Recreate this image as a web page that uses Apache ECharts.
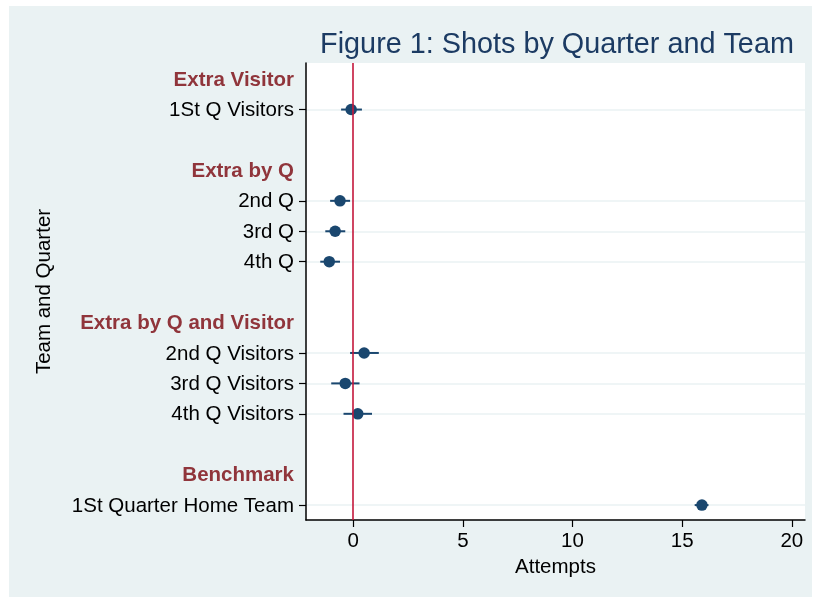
<!DOCTYPE html>
<html>
<head>
<meta charset="utf-8">
<script src="https://cdn.jsdelivr.net/npm/echarts@6/dist/echarts.min.js"></script>
<style>
html,body{margin:0;padding:0;background:#fff;}
#chart{width:814px;height:599px;}
</style>
</head>
<body>
<div id="chart"></div>
<script>
// Row labels (top to bottom); headers and blank spacer rows included
var rowLabels = ['Extra Visitor', '1St Q Visitors', '', 'Extra by Q', '2nd Q', '3rd Q', '4th Q', '',
  'Extra by Q and Visitor', '2nd Q Visitors', '3rd Q Visitors', '4th Q Visitors', '', 'Benchmark', '1St Quarter Home Team'];
var headerRows = [0, 3, 8, 13];
var itemRows = [1, 4, 5, 6, 9, 10, 11, 14];
// Estimates and confidence intervals for the item rows
var estimates = [-0.09, -0.6, -0.82, -1.09, 0.5, -0.36, 0.21, 15.9];
var lowerCI   = [-0.55, -1.05, -1.27, -1.5, -0.14, -1.0, -0.44, 15.57];
var upperCI   = [0.4, -0.14, -0.36, -0.6, 1.17, 0.29, 0.86, 16.2];
var xTicks = [0, 5, 10, 15, 20];

var allRows = rowLabels.map(function (_, i) { return i; });
var pointData = itemRows.map(function (r, i) { return [estimates[i], r]; });
var ciData = itemRows.map(function (r, i) { return [lowerCI[i], upperCI[i], r]; });

var FONT = '"Liberation Sans", Arial, Helvetica, sans-serif';
var NAVY = '#1a476f';

var chart = echarts.init(document.getElementById('chart'), null, {renderer: 'canvas'});
chart.setOption({
  animation: false,
  backgroundColor: '#ffffff',
  textStyle: {fontFamily: FONT},
  graphic: [{
    type: 'rect', z: -10, silent: true,
    shape: {x: 9, y: 6, width: 803, height: 591},
    style: {fill: '#eaf2f3'}
  }],
  title: {
    text: 'Figure 1: Shots by Quarter and Team',
    left: 552, top: 26, textAlign: 'center',
    textStyle: {fontFamily: FONT, fontSize: 28.8, fontWeight: 'normal', color: '#1c3b63'}
  },
  grid: {left: 306, top: 63, right: 9, bottom: 79, show: true, backgroundColor: '#ffffff', borderWidth: 0},
  xAxis: {
    type: 'value', min: -2.15, max: 20.6,
    name: 'Attempts', nameLocation: 'middle', nameGap: 36,
    nameTextStyle: {fontFamily: FONT, fontSize: 20.5, color: '#000'},
    axisLine: {show: true, onZero: false, lineStyle: {color: '#000', width: 1.5}},
    axisTick: {show: true, length: 7, customValues: xTicks, lineStyle: {color: '#000', width: 1.2}},
    axisLabel: {customValues: xTicks, fontFamily: FONT, fontSize: 20.5, color: '#000', margin: 11},
    splitLine: {show: false}
  },
  yAxis: {
    type: 'value', inverse: true, min: -0.53, max: 14.49,
    name: 'Team and Quarter', nameLocation: 'middle', nameGap: 251, nameRotate: 90,
    nameTextStyle: {fontFamily: FONT, fontSize: 20.5, color: '#000'},
    axisLine: {show: true, onZero: false, lineStyle: {color: '#000', width: 1.5}},
    axisTick: {show: true, length: 7, customValues: itemRows, lineStyle: {color: '#000', width: 1.2}},
    axisLabel: {
      customValues: allRows, fontFamily: FONT, fontSize: 20.5, color: '#000', margin: 12,
      padding: [2, 0, 0, 0],
      formatter: function (v) {
        var name = rowLabels[Math.round(v)] || '';
        if (headerRows.indexOf(Math.round(v)) >= 0) return '{h|' + name + '}';
        return name;
      },
      rich: {h: {fontFamily: FONT, fontSize: 20.5, fontWeight: 'bold', color: '#90353b'}}
    },
    splitLine: {show: true, lineStyle: {color: '#eaf2f3', width: 1.5}}
  },
  series: [{
    type: 'custom',
    z: 2,
    encode: {x: [0, 1], y: 2},
    data: ciData,
    renderItem: function (params, api) {
      var p1 = api.coord([api.value(0), api.value(2)]);
      var p2 = api.coord([api.value(1), api.value(2)]);
      return {type: 'line', shape: {x1: p1[0], y1: p1[1], x2: p2[0], y2: p2[1]},
        style: {stroke: NAVY, lineWidth: 2}};
    },
    markLine: {
      silent: true, symbol: 'none', label: {show: false},
      lineStyle: {color: '#c4173b', width: 1.6, type: 'solid'},
      data: [{xAxis: 0}]
    }
  }, {
    type: 'scatter',
    z: 3,
    symbol: 'circle', symbolSize: 11.5,
    itemStyle: {color: NAVY, opacity: 1},
    data: pointData
  }]
});
</script>
</body>
</html>
